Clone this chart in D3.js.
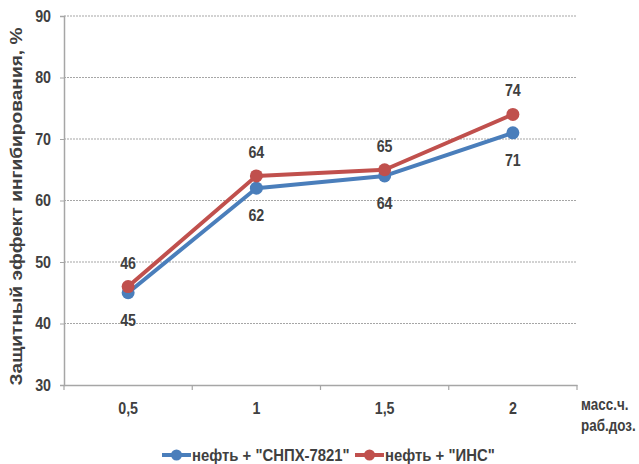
<!DOCTYPE html>
<html><head><meta charset="utf-8">
<script src="https://cdn.jsdelivr.net/npm/d3@7"></script>
<style>
body{margin:0;background:#fff;}
text{font-family:"Liberation Sans",Arial,sans-serif;font-weight:bold;fill:#404040;}
</style></head><body>
<svg id="c" width="639" height="464"></svg>
<script>
const categories = ["0,5", "1", "1,5", "2"];
const snpxValues = [45, 62, 64, 71];
const insValues = [46, 64, 65, 74];
const seriesNames = ['нефть + "СНПХ-7821"', 'нефть + "ИНС"'];
const yTicks = [30, 40, 50, 60, 70, 80, 90];

const svg = d3.select("#c");
const plotLeft = 64, plotRight = 577, plotTop = 16, plotBottom = 385;

const x = d3.scaleBand().domain(categories).range([plotLeft, plotRight]);
const y = d3.scaleLinear().domain([30, 90]).range([plotBottom, plotTop]);
const font = '"Liberation Sans",Arial,sans-serif';

// condense text horizontally around its anchor x
function narrow(sel, k) {
  sel.each(function () {
    const t = d3.select(this);
    const ax = +(t.attr("x") || 0);
    t.attr("transform", `translate(${ax},0) scale(${k},1) translate(${-ax},0)`);
  });
}

// horizontal grid
svg.append("g").selectAll("line").data(yTicks.slice(1)).join("line")
  .attr("x1", plotLeft).attr("x2", plotRight)
  .attr("y1", d => y(d)).attr("y2", d => y(d))
  .attr("stroke", "#a6a6a6").attr("stroke-width", 1.2).attr("stroke-dasharray", "2,1");

// y axis
const yAxis = svg.append("g").attr("transform", `translate(${plotLeft},0)`)
  .call(d3.axisLeft(y).tickValues(yTicks).tickSize(4).tickPadding(9));
yAxis.select(".domain").attr("stroke", "#a6a6a6").attr("stroke-width", 1.5);
yAxis.selectAll(".tick line").attr("stroke", "#a6a6a6");
yAxis.selectAll("text").attr("font-size", 17).attr("fill", "#404040")
  .style("font-family", font).style("font-weight", "bold").call(narrow, 0.84);

// x axis
const xAxis = svg.append("g").attr("transform", `translate(0,${plotBottom})`)
  .call(d3.axisBottom(x).tickSize(0).tickPadding(17));
xAxis.select(".domain").attr("stroke", "#a6a6a6").attr("stroke-width", 1.5);
xAxis.selectAll("text").attr("font-size", 17).attr("fill", "#404040")
  .style("font-family", font).style("font-weight", "bold").call(narrow, 0.84);
// category boundary ticks
const bounds = categories.map(c => x(c)).concat([plotRight]);
svg.append("g").selectAll("line").data(bounds).join("line")
  .attr("x1", d => d).attr("x2", d => d).attr("y1", plotBottom).attr("y2", plotBottom + 5)
  .attr("stroke", "#a6a6a6").attr("stroke-width", 1.2);

// axis titles
svg.append("text").attr("transform", `translate(22,${(plotTop + plotBottom) / 2 + 6}) rotate(-90)`)
  .attr("text-anchor", "middle").attr("font-size", 16)
  .attr("textLength", 358).attr("lengthAdjust", "spacingAndGlyphs")
  .text("Защитный эффект ингибирования, %");
svg.append("text").attr("x", 581).attr("y", 410).attr("font-size", 16).text("масс.ч.").call(narrow, 0.84);
svg.append("text").attr("x", 581).attr("y", 431).attr("font-size", 16).text("раб.доз.").call(narrow, 0.84);

const cx = c => x(c) + x.bandwidth() / 2;
const line = d3.line().x((d, i) => cx(categories[i])).y(d => y(d));

function drawSeries(vals, color, above) {
  svg.append("path").datum(vals).attr("d", line)
    .attr("fill", "none").attr("stroke", color).attr("stroke-width", 4).attr("stroke-linejoin", "round");
  svg.append("g").selectAll("circle").data(vals).join("circle")
    .attr("cx", (d, i) => cx(categories[i])).attr("cy", d => y(d)).attr("r", 6.5).attr("fill", color);
  svg.append("g").selectAll("text").data(vals).join("text")
    .attr("x", (d, i) => cx(categories[i])).attr("y", d => above ? y(d) - 18 : y(d) + 33)
    .attr("text-anchor", "middle").attr("font-size", 17).text(d => d).call(narrow, 0.84);
}
drawSeries(snpxValues, "#4a7ebb", false);
drawSeries(insValues, "#c0504d", true);

// legend
const legend = [
  {name: seriesNames[0], color: "#4a7ebb", x: 162},
  {name: seriesNames[1], color: "#c0504d", x: 355}
];
const lg = svg.append("g").selectAll("g").data(legend).join("g")
  .attr("transform", d => `translate(${d.x},455)`);
lg.append("line").attr("x1", 0).attr("x2", 29).attr("y1", 0).attr("y2", 0)
  .attr("stroke", d => d.color).attr("stroke-width", 4);
lg.append("circle").attr("cx", 14.5).attr("cy", 0).attr("r", 5.5).attr("fill", d => d.color);
lg.append("text").attr("x", 30).attr("y", 5.5).attr("font-size", 16).text(d => d.name).call(narrow, 0.93);
</script>
</body></html>
